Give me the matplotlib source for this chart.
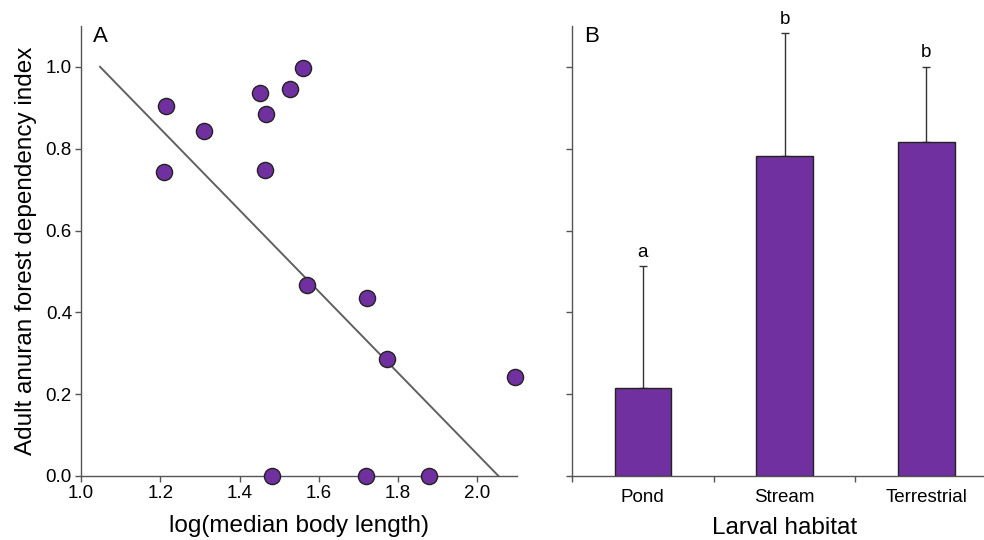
import matplotlib
matplotlib.use("Agg")
import matplotlib.pyplot as plt
import numpy as np

plt.rcParams['font.family'] = ['Liberation Sans', 'DejaVu Sans']

# Panel A data
body_length = [1.215, 1.210, 1.311, 1.451, 1.466, 1.463, 1.527, 1.559,
               1.570, 1.722, 1.772, 2.096, 1.481, 1.719, 1.878]
forest_index = [0.905, 0.744, 0.844, 0.937, 0.885, 0.749, 0.946, 0.998,
                0.466, 0.434, 0.285, 0.241, 0.0, 0.0, 0.0]
fit_x = [1.048, 2.053]
fit_intercept = 2.043
fit_slope = -0.995

# Panel B data
habitats = ['Pond', 'Stream', 'Terrestrial']
habitat_mean = [0.215, 0.783, 0.817]
habitat_err = [0.298, 0.299, 0.183]
habitat_letters = ['a', 'b', 'b']

purple = '#7030A0'
spine_col = '#555555'

fig = plt.figure(figsize=(9.84, 5.4), dpi=100)
ax1 = fig.add_axes([81/984, 1-476/540, (517-81)/984, 450/540])
ax2 = fig.add_axes([572/984, 1-476/540, (997-572)/984, 450/540])

for ax in (ax1, ax2):
    for s in ('top', 'right'):
        ax.spines[s].set_visible(False)
    for s in ('left', 'bottom'):
        ax.spines[s].set_color(spine_col)
        ax.spines[s].set_linewidth(1.0)
    ax.tick_params(direction='out', length=4.5, width=1, color=spine_col,
                   labelsize=13.5, pad=2)
    ax.set_ylim(0, 1.1)
    ax.set_yticks([0, 0.2, 0.4, 0.6, 0.8, 1.0])

# Panel A
fx = np.array(fit_x)
ax1.plot(fx, fit_intercept + fit_slope * fx, color='#606060', lw=1.4, zorder=2)
ax1.scatter(body_length, forest_index, s=135, color=purple, edgecolor='#222222',
            linewidth=1, zorder=3, clip_on=False)
ax1.set_xlim(1.0, 2.1)
ax1.set_xticks([1.0, 1.2, 1.4, 1.6, 1.8, 2.0])
ax1.set_yticklabels(['0.0', '0.2', '0.4', '0.6', '0.8', '1.0'])
ax1.set_xlabel('log(median body length)', fontsize=17.5, labelpad=9)
ax1.set_ylabel('Adult anuran forest dependency index', fontsize=17.5, labelpad=6)
ax1.text(0.028, 1.0, 'A', transform=ax1.transAxes, fontsize=16, va='top', ha='left')

# Panel B
xpos = np.arange(len(habitats))
ax2.bar(xpos, habitat_mean, width=0.40, color=purple, edgecolor='#222222',
        linewidth=1, zorder=2)
ax2.errorbar(xpos, habitat_mean, yerr=[np.zeros(len(habitats)), habitat_err],
             fmt='none', ecolor='#333333', elinewidth=1, capsize=3, capthick=1,
             zorder=1)
for x, m, e, lab in zip(xpos, habitat_mean, habitat_err, habitat_letters):
    ax2.annotate(lab, (x, m + e), xytext=(0, 4), textcoords='offset points',
                 ha='center', va='bottom', fontsize=13.5)
ax2.set_xlim(-0.5, 2.5)
ax2.set_xticks([-0.5, 0.5, 1.5, 2.5])
ax2.set_xticklabels([])
ax2.set_xticks(xpos, minor=True)
ax2.set_xticklabels(habitats, minor=True)
ax2.tick_params(axis='x', which='minor', length=0, labelsize=13.5, pad=9)
ax2.set_yticklabels([])
ax2.set_xlabel('Larval habitat', fontsize=17.5, labelpad=8)
ax2.text(0.028, 1.0, 'B', transform=ax2.transAxes, fontsize=16, va='top', ha='left')

fig.savefig('out.png', dpi=100)
